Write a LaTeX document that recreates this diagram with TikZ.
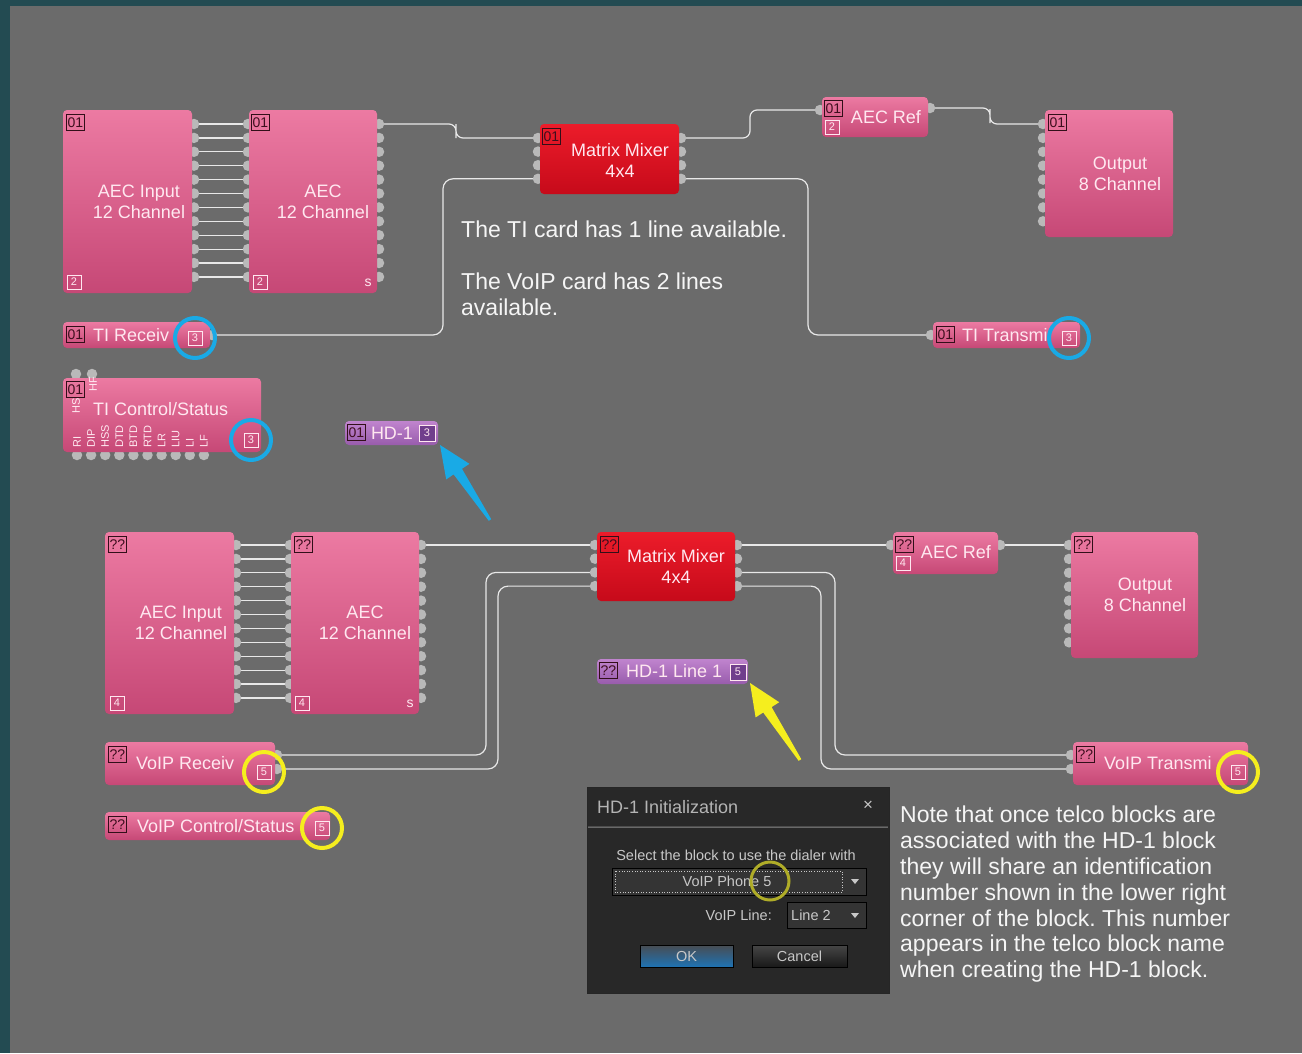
\documentclass[tikz,border=0pt]{standalone}
\usepackage{fontspec}
\setmainfont{Liberation Sans}
\usetikzlibrary{calc}
\pgfdeclarelayer{bg}
\pgfdeclarelayer{wires}
\pgfsetlayers{bg,wires,main}
\frenchspacing

\definecolor{bgteal}{RGB}{35,75,82}
\definecolor{bggray}{RGB}{107,107,107}
\definecolor{blktop}{RGB}{236,122,162}
\definecolor{blkbot}{RGB}{198,72,118}
\definecolor{mixtop}{RGB}{236,28,42}
\definecolor{mixbot}{RGB}{198,10,26}
\definecolor{hdtop}{RGB}{192,132,206}
\definecolor{hdbot}{RGB}{152,92,172}
\definecolor{hdnum}{RGB}{112,62,140}
\definecolor{lbltext}{RGB}{255,232,240}
\definecolor{idline}{RGB}{50,15,25}
\definecolor{idtext}{RGB}{62,14,30}
\definecolor{portgray}{RGB}{185,185,185}
\definecolor{wirecol}{RGB}{232,232,232}
\definecolor{cyanring}{RGB}{25,170,230}
\definecolor{yelring}{RGB}{245,238,30}
\definecolor{olivering}{RGB}{175,172,40}
\definecolor{notetext}{RGB}{245,245,245}
\definecolor{dlgbg}{RGB}{40,40,40}
\definecolor{dlgtext}{RGB}{200,200,200}
\definecolor{combobg}{RGB}{52,52,52}
\definecolor{oktop}{RGB}{72,76,82}
\definecolor{okbot}{RGB}{30,115,180}
\definecolor{cantop}{RGB}{70,70,70}
\definecolor{canbot}{RGB}{25,25,25}

\newcommand\blkfont{\fontsize{18}{21}\selectfont}
\newcommand\idfont{\fontsize{14}{14}\selectfont}
\newcommand\numfont{\fontsize{11}{11}\selectfont}
\newcommand\vlabfont{\fontsize{11}{11}\selectfont}
\newcommand\notefont{\fontsize{23}{25.8}\selectfont}
\newcommand\dlgfont{\fontsize{14.5}{16}\selectfont}
\newcommand\titfont{\fontsize{18}{20}\selectfont}

\begin{document}
\begin{tikzpicture}[x=1pt,y=-1pt]
\tikzstyle{blk}=[rectangle,rounded corners=4pt,top color=blktop,bottom color=blkbot,inner sep=0pt]
\tikzstyle{mixblk}=[blk,top color=mixtop,bottom color=mixbot]
\tikzstyle{hdblk}=[blk,top color=hdtop,bottom color=hdbot]
\tikzstyle{lbl}=[text=lbltext,font=\blkfont,align=center,inner sep=0pt]
\tikzstyle{idbox}=[draw=idline,line width=0.9pt,text=idtext,font=\idfont,minimum width=18pt,minimum height=16pt,inner sep=0pt,anchor=north west]
\tikzstyle{numbox}=[draw=lbltext,line width=0.9pt,text=lbltext,font=\numfont,minimum size=14pt,inner sep=0pt]
\tikzstyle{port}=[circle,fill=portgray,minimum size=10.5pt,inner sep=0pt]
\tikzstyle{wire}=[draw=wirecol,line width=1.2pt,rounded corners=7pt]
\tikzstyle{ring}=[circle,line width=4pt,minimum size=40pt,inner sep=0pt]
\tikzstyle{vlab}=[text=lbltext,font=\vlabfont,rotate=90,anchor=west,inner sep=0pt]
\tikzstyle{note}=[text=notetext,font=\notefont,align=left,anchor=north west,inner sep=0pt]
\tikzstyle{dlg}=[text=dlgtext,font=\dlgfont,inner sep=0pt]
\tikzstyle{combo}=[draw=black,fill=combobg,line width=0.8pt,inner sep=0pt]
\tikzstyle{btn}=[draw=black,line width=0.8pt,text=dlgtext,font=\dlgfont,minimum width=93pt,minimum height=22pt,inner sep=0pt]
\useasboundingbox (0,0) rectangle (1302,1053);
\begin{pgfonlayer}{bg}
\fill[bgteal] (0,0) rectangle (1302,1053);
\fill[bggray] (10,6) rectangle (1302,1053);
\end{pgfonlayer}

% ports, upper chain
\foreach \i in {1,...,12} {
  \node[port] (aec_in1_e\i) at (194,{124+13.9*(\i-1)}) {};
  \node[port] (aec1_w\i) at (248,{124+13.9*(\i-1)}) {};
  \node[port] (aec1_e\i) at (379,{124+13.9*(\i-1)}) {};
}
\foreach \i in {1,...,4} {
  \node[port] (mix1_w\i) at (538,{138+13.6*(\i-1)}) {};
  \node[port] (mix1_e\i) at (681,{138+13.6*(\i-1)}) {};
}
\node[port] (ref1_w) at (820,110) {};
\node[port] (ref1_e) at (930,108) {};
\foreach \i in {1,...,8}
  \node[port] (out1_w\i) at (1043,{124+13.9*(\i-1)}) {};
\node[port] (tirx_e) at (212,335) {};
\node[port] (titx_w) at (931,335) {};
\node[port] (tictl_t1) at (76,374) {};
\node[port] (tictl_t2) at (92,374) {};
\foreach \i in {1,...,10}
  \node[port] (tictl_b\i) at ({77+14.1*(\i-1)},455) {};

% ports, lower chain
\foreach \i in {1,...,12} {
  \node[port] (aec_in2_e\i) at (236,{545+13.9*(\i-1)}) {};
  \node[port] (aec2_w\i) at (290,{545+13.9*(\i-1)}) {};
  \node[port] (aec2_e\i) at (421,{545+13.9*(\i-1)}) {};
}
\foreach \i in {1,...,4} {
  \node[port] (mix2_w\i) at (595,{545+13.7*(\i-1)}) {};
  \node[port] (mix2_e\i) at (737,{545+13.7*(\i-1)}) {};
}
\node[port] (ref2_w) at (891,545) {};
\node[port] (ref2_e) at (1000,545) {};
\foreach \i in {1,...,8}
  \node[port] (out2_w\i) at (1069,{545+13.9*(\i-1)}) {};
\node[port] (voiprx_e1) at (277,755) {};
\node[port] (voiprx_e2) at (277,769) {};
\node[port] (voiptx_w1) at (1071,755) {};
\node[port] (voiptx_w2) at (1071,769) {};

% wires
\begin{pgfonlayer}{wires}
\foreach \i in {1,...,12} {
  \draw[wire] (aec_in1_e\i.center) -- (aec1_w\i.center);
  \draw[wire] (aec_in2_e\i.center) -- (aec2_w\i.center);
}
\draw[wire] (aec1_e1.center) -| (456,131) |- (mix1_w1.center);
\draw[wire] (mix1_e1.center) -| (750,124) |- (ref1_w.center);
\draw[wire] (ref1_e.center) -| (990,116) |- (out1_w1.center);
\draw[wire,rounded corners=10pt] (mix1_e4.center) -| (808,260) |- (titx_w.center);
\draw[wire,rounded corners=10pt] (tirx_e.center) -| (443,260) |- (mix1_w4.center);
\draw[wire] (aec2_e1.center) -- (mix2_w1.center);
\draw[wire] (mix2_e1.center) -- (ref2_w.center);
\draw[wire] (ref2_e.center) -- (out2_w1.center);
\draw[wire,rounded corners=10pt] (mix2_e3.center) -| (835,660) |- (voiptx_w1.center);
\draw[wire,rounded corners=10pt] (mix2_e4.center) -| (821,680) |- (voiptx_w2.center);
\draw[wire,rounded corners=10pt] (voiprx_e1.center) -| (486,660) |- (mix2_w3.center);
\draw[wire,rounded corners=10pt] (voiprx_e2.center) -| (498,680) |- (mix2_w4.center);
\end{pgfonlayer}

% upper blocks
\node[blk,minimum width=129pt,minimum height=183pt] (aec_in1) at (127.5,201.5) {};
\node[blk,minimum width=128pt,minimum height=183pt] (aec1) at (313,201.5) {};
\node[mixblk,minimum width=139pt,minimum height=70pt] (mix1) at (609.5,159) {};
\node[blk,minimum width=106pt,minimum height=40pt] (ref1) at (875,117) {};
\node[blk,minimum width=128pt,minimum height=127pt] (out1) at (1109,173.5) {};
\node[blk,minimum width=147pt,minimum height=26pt] (tirx) at (136.5,335) {};
\node[blk,minimum width=147pt,minimum height=26pt] (titx) at (1006.5,335) {};
\node[blk,minimum width=198pt,minimum height=74pt] (tictl) at (162,415) {};
\node[hdblk,minimum width=93pt,minimum height=24pt] (hd1) at (391.5,433) {};

\node[lbl] (aec_in1_lbl) at (139,202) {AEC Input\\12 Channel};
\node[lbl] (aec1_lbl) at (323,202) {AEC\\12 Channel};
\node[lbl] (mix1_lbl) at (620,160) {Matrix Mixer\\4x4};
\node[lbl] (ref1_lbl) at (886,117) {AEC Ref};
\node[lbl] (out1_lbl) at (1120,174) {Output\\8 Channel};
\node[lbl,anchor=west] (tirx_lbl) at (93,335) {TI Receiv};
\node[lbl,anchor=west] (titx_lbl) at (962,335) {TI Transmi};
\node[lbl,anchor=west] (tictl_lbl) at (93,409) {TI Control/Status};
\node[lbl] (hd1_lbl) at (392,433) {HD-1};

\node[idbox] (aec_in1_id) at (66,114) {01};
\node[idbox] (aec1_id) at (251,114) {01};
\node[idbox] (mix1_id) at (542,128) {01};
\node[idbox] (ref1_id) at (824,100) {01};
\node[idbox] (out1_id) at (1048,114) {01};
\node[idbox] (tirx_id) at (66,326) {01};
\node[idbox] (titx_id) at (936,326) {01};
\node[idbox] (tictl_id) at (66,381) {01};
\node[idbox] (hd1_id) at (347,424) {01};

\node[numbox] (aec_in1_num) at (74,282) {2};
\node[numbox] (aec1_num) at (260,282) {2};
\node[lbl,font=\fontsize{14}{14}\selectfont] (aec1_s) at (368,283) {s};
\node[numbox] (ref1_num) at (832,127) {2};
\node[numbox] (tirx_num) at (195,338) {3};
\node[numbox] (titx_num) at (1069,338) {3};
\node[numbox] (tictl_num) at (251,440) {3};
\node[numbox,fill=hdnum,minimum size=16pt] (hd1_num) at (427,433) {3};

\node[vlab] (tictl_hs) at (76,414) {HS};
\node[vlab] (tictl_hf) at (93,392) {HF};
\foreach \lab [count=\i] in {RI,DIP,HSS,DTD,BTD,RTD,LR,LIU,LI,LF}
  \node[vlab] (tictl_lab\i) at ({77+14.1*(\i-1)},448) {\lab};

% lower blocks
\node[blk,minimum width=129pt,minimum height=182pt] (aec_in2) at (169.5,623) {};
\node[blk,minimum width=128pt,minimum height=182pt] (aec2) at (355,623) {};
\node[mixblk,minimum width=138pt,minimum height=69pt] (mix2) at (666,566.5) {};
\node[blk,minimum width=105pt,minimum height=42pt] (ref2) at (945.5,553) {};
\node[blk,minimum width=127pt,minimum height=126pt] (out2) at (1134.5,595) {};
\node[blk,minimum width=170pt,minimum height=43pt] (voiprx) at (190,763.5) {};
\node[blk,minimum width=175pt,minimum height=43pt] (voiptx) at (1160.5,763.5) {};
\node[blk,minimum width=225pt,minimum height=28pt] (voipctl) at (217.5,826) {};
\node[hdblk,minimum width=151pt,minimum height=25pt] (hdline) at (672.5,671.5) {};

\node[lbl] (aec_in2_lbl) at (181,623) {AEC Input\\12 Channel};
\node[lbl] (aec2_lbl) at (365,623) {AEC\\12 Channel};
\node[lbl] (mix2_lbl) at (676,566) {Matrix Mixer\\4x4};
\node[lbl] (ref2_lbl) at (956,552) {AEC Ref};
\node[lbl] (out2_lbl) at (1145,595) {Output\\8 Channel};
\node[lbl,anchor=west] (voiprx_lbl) at (136,763) {VoIP Receiv};
\node[lbl,anchor=west] (voiptx_lbl) at (1104,763) {VoIP Transmi};
\node[lbl,anchor=west] (voipctl_lbl) at (137,826) {VoIP Control/Status};
\node[lbl,anchor=west] (hdline_lbl) at (626,671) {HD-1 Line 1};

\node[idbox] (aec_in2_id) at (108,536) {??};
\node[idbox] (aec2_id) at (294,536) {??};
\node[idbox] (mix2_id) at (600,536) {??};
\node[idbox] (ref2_id) at (895,536) {??};
\node[idbox] (out2_id) at (1074,536) {??};
\node[idbox] (voiprx_id) at (108,746) {??};
\node[idbox] (voiptx_id) at (1076,746) {??};
\node[idbox] (voipctl_id) at (108,816) {??};
\node[idbox] (hdline_id) at (599,662) {??};

\node[numbox] (aec_in2_num) at (117,703) {4};
\node[numbox] (aec2_num) at (302,703) {4};
\node[lbl,font=\fontsize{14}{14}\selectfont] (aec2_s) at (410,704) {s};
\node[numbox] (ref2_num) at (903,563) {4};
\node[numbox] (voiprx_num) at (264,772) {5};
\node[numbox] (voiptx_num) at (1238,772) {5};
\node[numbox] (voipctl_num) at (322,828) {5};
\node[numbox,fill=hdnum,minimum size=16pt] (hdline_num) at (738,672) {5};

% highlight rings
\node[ring,draw=cyanring] (tirx_ring) at (195,338) {};
\node[ring,draw=cyanring] (titx_ring) at (1069,338) {};
\node[ring,draw=cyanring] (tictl_ring) at (251,440) {};
\node[ring,draw=yelring] (voiprx_ring) at (264,772) {};
\node[ring,draw=yelring] (voiptx_ring) at (1238,772) {};
\node[ring,draw=yelring] (voipctl_ring) at (322,828) {};

% pointer arrows
\fill[cyanring] (440,445) -- (469.4,463.8) -- (462,468.8) -- (491.2,519.2) -- (488.8,520.8) -- (453.6,474.4) -- (446.2,479.4) -- cycle;
\fill[yelring] (750,683) -- (779.2,702.2) -- (771.6,707.1) -- (801.3,759.2) -- (798.7,760.8) -- (763.2,712.5) -- (755.6,717.4) -- cycle;

% notes
\node[note] (ti_note) at (461,221) {The TI card has 1 line available.\\[25.8pt]The VoIP card has 2 lines\\available.};
\node[note] (hd_note) at (900,806) {Note that once telco blocks are\\associated with the HD-1 block\\they will share an identification\\number shown in the lower right\\corner of the block. This number\\appears in the telco block name\\when creating the HD-1 block.};

% dialog
\fill[dlgbg] (587,787) rectangle (889,993);
\draw[black!85,line width=1pt] (587,787) rectangle (889,993);
\draw[black!70,line width=1pt] (588,826) -- (888,826);
\draw[white!30!dlgbg,line width=0.6pt] (588,827.5) -- (888,827.5);
\node[dlg,anchor=west,font=\titfont,text=dlgtext!90!black] (dlg_title) at (597,807) {HD-1 Initialization};
\node[dlg,font=\fontsize{17}{17}\selectfont] (dlg_close) at (868,806) {×};
\node[dlg] (dlg_prompt) at (736,855) {Select the block to use the dialer with};
\node[combo,minimum width=254pt,minimum height=27pt] (dlg_block) at (739,881.5) {};
\draw[dlgtext,dotted,line width=0.6pt] (615,871) rectangle (842,892);
\node[dlg] (dlg_phone) at (727,881) {VoIP Phone 5};
\fill[dlgtext] (851,879) -- (859,879) -- (855,884) -- cycle;
\node[dlg,anchor=east] (dlg_linelbl) at (772,915) {VoIP Line:};
\node[combo,minimum width=79pt,minimum height=26pt] (dlg_line) at (826.5,915) {};
\node[dlg,anchor=west] (dlg_lineval) at (791,915) {Line 2};
\fill[dlgtext] (851,913) -- (859,913) -- (855,918) -- cycle;
\node[btn,top color=oktop,middle color=oktop!85!okbot,bottom color=okbot] (dlg_ok) at (686.5,956) {OK};
\node[btn,top color=cantop,bottom color=canbot,minimum width=95pt] (dlg_cancel) at (799.5,956) {Cancel};
\node[ring,draw=olivering,line width=3pt,minimum size=38pt] (dlg_ring) at (770,881) {};
\end{tikzpicture}
\end{document}
